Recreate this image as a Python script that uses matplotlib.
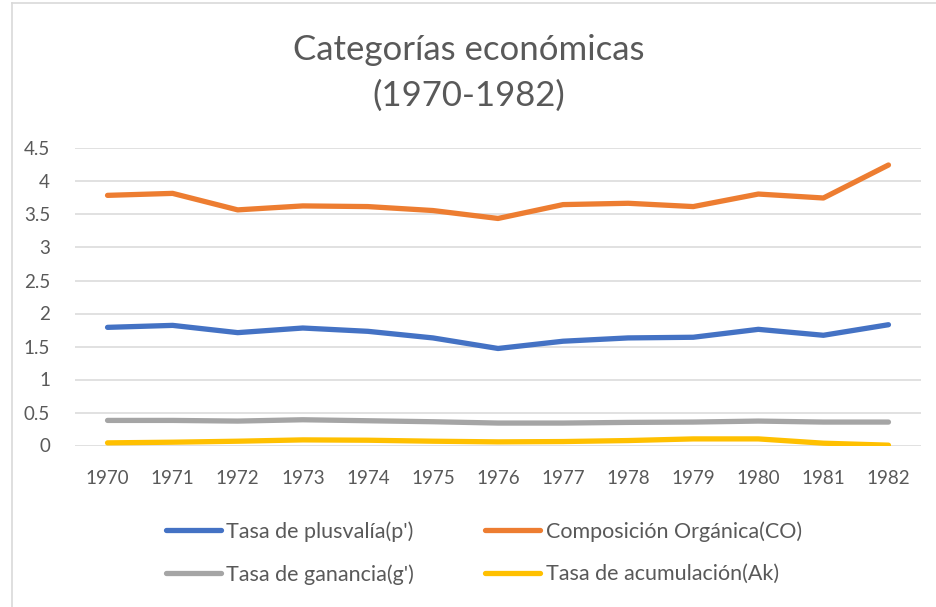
import matplotlib
matplotlib.use("Agg")
import matplotlib.pyplot as plt
from matplotlib.lines import Line2D

years = ["1970", "1971", "1972", "1973", "1974", "1975", "1976",
         "1977", "1978", "1979", "1980", "1981", "1982"]
plusvalia = [1.79, 1.82, 1.71, 1.78, 1.73, 1.63, 1.47, 1.58, 1.63, 1.64, 1.76, 1.67, 1.83]
composicion = [3.79, 3.82, 3.57, 3.63, 3.62, 3.56, 3.44, 3.65, 3.67, 3.62, 3.81, 3.75, 4.25]
ganancia = [0.38, 0.38, 0.37, 0.39, 0.375, 0.36, 0.34, 0.34, 0.35, 0.355, 0.37, 0.355, 0.355]
acumulacion = [0.04, 0.05, 0.065, 0.085, 0.08, 0.065, 0.055, 0.06, 0.075, 0.10, 0.10, 0.035, 0.005]

series_names = ["Tasa de plusvalía(p')", "Composición Orgánica(CO)",
                "Tasa de ganancia(g')", "Tasa de acumulación(Ak)"]
series_vals = [plusvalia, composicion, ganancia, acumulacion]
colors = ["#4472C4", "#ED7D31", "#A5A5A5", "#FFC000"]

yticks = [0, 0.5, 1, 1.5, 2, 2.5, 3, 3.5, 4, 4.5]
ytick_labels = ["0", "0.5", "1", "1.5", "2", "2.5", "3", "3.5", "4", "4.5"]

plt.rcParams['font.family'] = ['Lato', 'DejaVu Sans']
text_color = "#595959"

fig = plt.figure(figsize=(9.37, 6.07), dpi=100)
W, H = 937, 607
ax = fig.add_axes([75 / W, 1 - 445.5 / H, (921 - 75) / W, (445.5 - 148.5) / H])

x = list(range(len(years)))
for vals, c, name in zip(series_vals, colors, series_names):
    ax.plot(x, vals, color=c, lw=3.8, solid_capstyle='round',
            solid_joinstyle='round', label=name, zorder=3)

ax.set_xlim(-0.5, len(years) - 0.5)
ax.set_ylim(0, 4.5)
ax.set_yticks(yticks)
ax.set_yticklabels(ytick_labels)
ax.set_xticks(x)
ax.set_xticklabels(years)
ax.grid(axis='y', color="#D9D9D9", lw=1.1, zorder=0)
ax.tick_params(axis='both', length=0, colors=text_color, labelsize=13.5)
ax.tick_params(axis='y', pad=18)
ax.tick_params(axis='x', pad=18)
for s in ax.spines.values():
    s.set_visible(False)

fig.text(0.5, 1 - 50 / H, "Categorías económicas", ha='center', va='center',
         fontsize=25, color=text_color)
fig.text(0.5, 1 - 96 / H, "(1970-1982)", ha='center', va='center',
         fontsize=25, color=text_color)

# legend filled row-wise as in the reference (matplotlib fills columns first)
order = [0, 2, 1, 3]
handles = [Line2D([0], [0], color=colors[i], lw=3.8, solid_capstyle='round') for i in order]
labels = [series_names[i] for i in order]
leg = fig.legend(handles, labels, ncol=2, loc='center',
                 bbox_to_anchor=(484 / W, 1 - 553 / H), frameon=False,
                 fontsize=15.5, handlelength=2.55, handletextpad=0.25,
                 columnspacing=3.3, labelspacing=1.05)
for t in leg.get_texts():
    t.set_color(text_color)

# chart border
fig.add_artist(Line2D([12 / W, 12 / W], [0, 1 - 3 / H], color="#D9D9D9", lw=1.2,
                      transform=fig.transFigure))
fig.add_artist(Line2D([12 / W, 1], [1 - 3 / H, 1 - 3 / H], color="#D9D9D9", lw=1.2,
                      transform=fig.transFigure))

fig.savefig("out.png", dpi=100)
